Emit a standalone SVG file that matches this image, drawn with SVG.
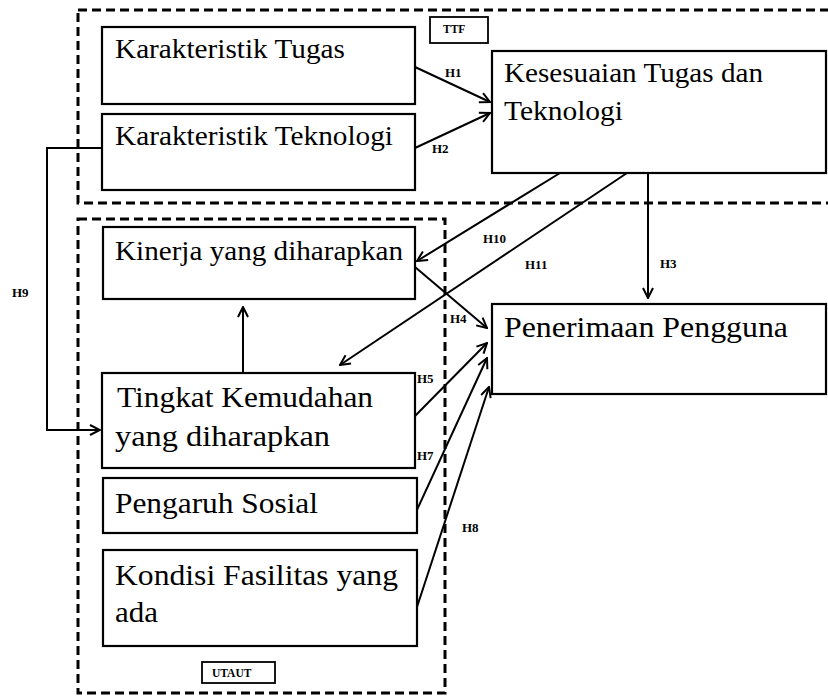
<svg xmlns="http://www.w3.org/2000/svg" width="828" height="696" viewBox="0 0 828 696">
<style>
.frame{fill:none;stroke:#000;stroke-width:3;stroke-dasharray:9 5}
.box{fill:#fff;stroke:#000;stroke-width:2.2}
.tag{fill:#fff;stroke:#000;stroke-width:1.8}
text{font-family:"Liberation Serif","Times New Roman",Tinos,"DejaVu Serif",serif;fill:#000}
.lbl{font-weight:bold;font-size:13px}
.tg{font-weight:bold;font-size:11.5px}
.c{fill:none;stroke:#000;stroke-width:2;marker-end:url(#ah)}
</style>
<defs>
<marker id="ah" viewBox="0 0 12 12" refX="11" refY="6" markerWidth="12" markerHeight="12" markerUnits="userSpaceOnUse" orient="auto">
<path d="M1,1 L11,6 L1,11" fill="none" stroke="#000" stroke-width="2"/>
</marker>
</defs>
<rect fill="#fff" width="828" height="696"/>
<g id="ttf-frame">
<rect class="frame" x="78" y="10" width="800" height="193"/>
<rect class="tag" x="430" y="17" width="58" height="26"/>
<text class="tg" x="443" y="33">TTF</text>
</g>
<g id="utaut-frame">
<rect class="frame" x="78" y="219" width="367" height="474"/>
<rect class="tag" x="202" y="662" width="73" height="21"/>
<text class="tg" x="212" y="677">UTAUT</text>
</g>
<g id="connectors">
<path class="c" d="M102,148 L47,148 L47,430 L100,430"/>
<path class="c" d="M243,373 L243,307"/>
<path class="c" d="M415,67 L490,102"/>
<path class="c" d="M415,148 L490,113"/>
<path class="c" d="M648,173 L648,298"/>
<path class="c" d="M560,173 L417,261"/>
<path class="c" d="M627,173 L340,365"/>
<path class="c" d="M415,267 L487,328"/>
<path class="c" d="M415,416 L487,343"/>
<path class="c" d="M416,512 L487,358"/>
<path class="c" d="M417,607 L489,387"/>
<text class="lbl" x="445" y="77">H1</text>
<text class="lbl" x="432" y="153">H2</text>
<text class="lbl" x="660" y="268">H3</text>
<text class="lbl" x="483" y="243">H10</text>
<text class="lbl" x="525" y="269">H11</text>
<text class="lbl" x="450" y="323">H4</text>
<text class="lbl" x="417" y="383">H5</text>
<text class="lbl" x="417" y="460">H7</text>
<text class="lbl" x="462" y="532">H8</text>
<text class="lbl" x="12" y="297">H9</text>
</g>
<g id="karakteristik-tugas">
<rect class="box" x="102" y="27" width="313" height="77"/>
<text x="115" y="58" font-size="27" textLength="230" lengthAdjust="spacingAndGlyphs">Karakteristik Tugas</text>
</g>
<g id="karakteristik-teknologi">
<rect class="box" x="102" y="114" width="313" height="76"/>
<text x="115" y="145" font-size="27" textLength="278" lengthAdjust="spacingAndGlyphs">Karakteristik Teknologi</text>
</g>
<g id="kesesuaian">
<rect class="box" x="492" y="51" width="334" height="122"/>
<text x="504" y="82" font-size="27" textLength="259" lengthAdjust="spacingAndGlyphs">Kesesuaian Tugas dan</text>
<text x="504" y="120" font-size="27" textLength="119" lengthAdjust="spacingAndGlyphs">Teknologi</text>
</g>
<g id="kinerja">
<rect class="box" x="103" y="227" width="312" height="72"/>
<text x="115" y="260" font-size="27" textLength="288" lengthAdjust="spacingAndGlyphs">Kinerja yang diharapkan</text>
</g>
<g id="penerimaan">
<rect class="box" x="492" y="304" width="334" height="90"/>
<text x="504" y="337" font-size="29" textLength="284" lengthAdjust="spacingAndGlyphs">Penerimaan Pengguna</text>
</g>
<g id="tingkat-kemudahan">
<rect class="box" x="102" y="373" width="313" height="95"/>
<text x="117" y="407" font-size="30" textLength="256" lengthAdjust="spacingAndGlyphs">Tingkat Kemudahan</text>
<text x="115" y="446" font-size="30" textLength="215" lengthAdjust="spacingAndGlyphs">yang diharapkan</text>
</g>
<g id="pengaruh-sosial">
<rect class="box" x="103" y="478" width="314" height="55"/>
<text x="115" y="513" font-size="30" textLength="203" lengthAdjust="spacingAndGlyphs">Pengaruh Sosial</text>
</g>
<g id="kondisi-fasilitas">
<rect class="box" x="103" y="550" width="314" height="96"/>
<text x="115" y="585" font-size="29" textLength="283" lengthAdjust="spacingAndGlyphs">Kondisi Fasilitas yang</text>
<text x="115" y="622" font-size="29" textLength="43" lengthAdjust="spacingAndGlyphs">ada</text>
</g>
</svg>
